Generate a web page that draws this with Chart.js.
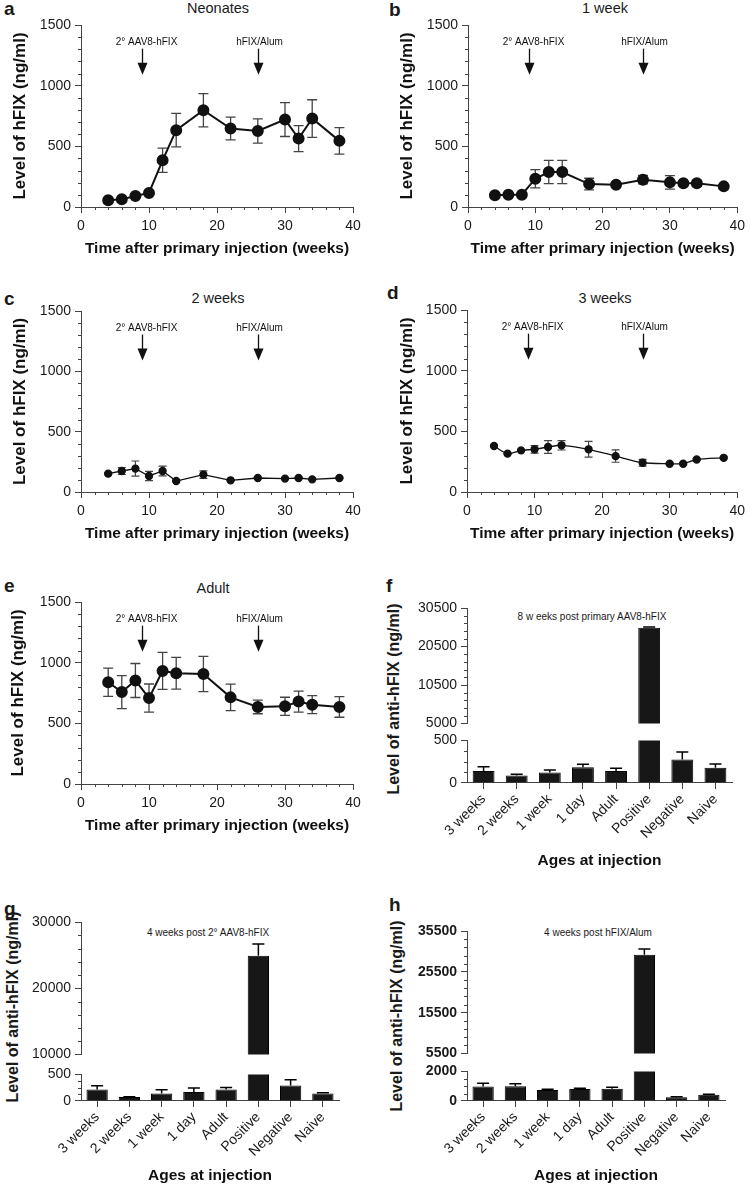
<!DOCTYPE html>
<html>
<head>
<meta charset="utf-8">
<script src="https://cdn.jsdelivr.net/npm/chart.js@4.4.1/dist/chart.umd.min.js"></script>
<style>
  body { margin: 0; background: #fff; }
  #page { position: relative; width: 750px; height: 1187px; overflow: hidden;
          font-family: 'Liberation Sans', Arial, Helvetica, sans-serif; color: #1a1a1a; }
  canvas { position: absolute; }
  .lbl { position: absolute; font-weight: bold; font-size: 19px; line-height: 19px; }
  .ttl { position: absolute; font-size: 14.5px; line-height: 14px; white-space: nowrap; transform: translateX(-50%); }
  .sub { position: absolute; font-size: 10px; line-height: 10px; white-space: nowrap; transform: translateX(-50%); }
  .ytl { position: absolute; font-weight: bold; font-size: 16px; white-space: nowrap;
         transform: translate(-50%, -50%) rotate(-90deg); }
</style>
</head>
<body>
<div id="page">
  <div class="lbl" style="left:4px;top:-1px">a</div>
  <div class="lbl" style="left:389px;top:0px">b</div>
  <div class="lbl" style="left:4px;top:289px">c</div>
  <div class="lbl" style="left:387px;top:283px">d</div>
  <div class="lbl" style="left:4px;top:576px">e</div>
  <div class="lbl" style="left:386px;top:576px">f</div>
  <div class="lbl" style="left:4px;top:899px">g</div>
  <div class="lbl" style="left:389px;top:895px">h</div>

  <div class="ttl" style="left:218px;top:1px">Neonates</div>
  <div class="ttl" style="left:605px;top:1px">1 week</div>
  <div class="ttl" style="left:218px;top:291px">2 weeks</div>
  <div class="ttl" style="left:605px;top:291px">3 weeks</div>
  <div class="ttl" style="left:213px;top:581px">Adult</div>

  <div class="sub" style="left:592px;top:612px">8 w eeks post primary AAV8-hFIX</div>
  <div class="sub" style="left:208px;top:928px">4 weeks post 2° AAV8-hFIX</div>
  <div class="sub" style="left:598px;top:928px">4 weeks post hFIX/Alum</div>

  <div class="ytl" style="left:394px;top:699px">Level of anti-hFIX (ng/ml)</div>
  <div class="ytl" style="left:13px;top:1007px">Level of anti-hFIX (ng/ml)</div>
  <div class="ytl" style="left:397px;top:1016px">Level of anti-hFIX (ng/ml)</div>
</div>
<script>
// ---- data ----
const weeks = [4, 6, 8, 10, 12, 14, 18, 22, 26, 30, 32, 34, 38];

const neonates    = [55, 63, 91, 116, 385, 633, 798, 647, 627, 721, 564, 729, 545];
const neonatesErr = [10, 10, 12, 15, 100, 138, 137, 94, 100, 140, 107, 155, 110];

const week1    = [96, 101, 101, 233, 288, 288, 189, 184, 225, 203, 195, 195, 170];
const week1Err = [8, 8, 8, 75, 96, 96, 48, 10, 35, 55, 15, 25, 10];

const week2    = [152, 174, 194, 133, 174, 91, 144, 97, 116, 111, 116, 105, 116];
const week2Err = [8, 29, 63, 38, 40, 5, 31, 5, 5, 5, 5, 5, 5];

const week3    = [379, 316, 343, 352, 371, 385, 352, 296, 241, 233, 233, 268, 282];
const week3Err = [5, 5, 5, 31, 52, 39, 65, 51, 28, 8, 8, 8, 8];

const adult    = [839, 758, 853, 708, 932, 913, 907, 714, 635, 640, 679, 654, 635];
const adultErr = [116, 136, 140, 116, 152, 131, 145, 109, 56, 75, 86, 74, 85];

const injections = [
  { x: 9, text: '2° AAV8-hFIX', dx: 4 },
  { x: 26, text: 'hFIX/Alum', dx: 1 }
];

const ages = ['3 weeks', '2 weeks', '1 week', '1 day', 'Adult', 'Positive', 'Negative', 'Naive'];

const antiF    = [142, 88, 122, 185, 142, 25400, 277, 180];
const antiFErr = [50, 16, 32, 34, 31, 200, 88, 43];
const antiG    = [217, 73, 142, 171, 217, 24900, 290, 142];
const antiGErr = [68, 7, 68, 73, 39, 1800, 108, 13];
const antiH    = [981, 1000, 750, 812, 833, 29700, 250, 420];
const antiHErr = [225, 167, 40, 44, 104, 1400, 40, 36];

// broken axis ticks (upper segment / lower segment)
const fUpperTicks = [500, 10500, 20500, 30500];
const fUpperLabels = ['5000', '10500', '20500', '30500'];
const fLowerTicks = [0, 500];
const gUpperTicks = [10000, 20000, 30000];
const gLowerTicks = [0, 500];
const hUpperTicks = [5500, 15500, 25500, 35500];
const hLowerTicks = [0, 2000];

// ---- setup ----
const FONT = "'Liberation Sans', Arial, Helvetica, sans-serif";
Chart.defaults.font.family = FONT;
Chart.defaults.color = '#1a1a1a';
Chart.defaults.animation = false;

const page = document.getElementById('page');
function addCanvas(left, top, w, h) {
  const c = document.createElement('canvas');
  c.width = w; c.height = h;
  c.style.left = left + 'px'; c.style.top = top + 'px';
  c.style.width = w + 'px'; c.style.height = h + 'px';
  page.appendChild(c);
  return c;
}

const errorBars = {
  id: 'errorBars',
  beforeDatasetsDraw(chart, args, opts) {
    if (!opts.err) return;
    const ctx = chart.ctx, area = chart.chartArea, ys = chart.scales.y;
    const meta = chart.getDatasetMeta(0);
    const vals = chart.data.datasets[0].data;
    ctx.save();
    ctx.beginPath();
    ctx.rect(area.left, area.top, area.right - area.left, area.bottom - area.top);
    ctx.clip();
    ctx.strokeStyle = opts.color;
    ctx.lineWidth = opts.width;
    meta.data.forEach((el, i) => {
      const v = typeof vals[i] === 'object' ? vals[i].y : vals[i];
      const e = opts.err[i];
      // skip bars whose error lies outside this axis segment
      if (v + e < ys.min || v > ys.max) return;
      const x = el.x;
      const yTop = ys.getPixelForValue(v + e);
      const yBot = ys.getPixelForValue(opts.upOnly ? v : v - e);
      ctx.beginPath();
      ctx.moveTo(x, yTop); ctx.lineTo(x, yBot);
      ctx.moveTo(x - opts.cap, yTop); ctx.lineTo(x + opts.cap, yTop);
      if (!opts.upOnly) { ctx.moveTo(x - opts.cap, yBot); ctx.lineTo(x + opts.cap, yBot); }
      ctx.stroke();
    });
    ctx.restore();
  }
};

const minorTicks = {
  id: 'minorTicks',
  afterDraw(chart, args, opts) {
    const ctx = chart.ctx;
    ctx.save();
    ctx.strokeStyle = '#444';
    ctx.lineWidth = 1;
    ['x', 'y'].forEach(k => {
      const o = opts[k];
      if (!o) return;
      const s = chart.scales[k];
      ctx.beginPath();
      for (let v = s.min; v <= s.max + 1e-6; v += o.step) {
        const r = (v - s.min) % o.major;
        if (Math.abs(r) < 1e-6 || Math.abs(r - o.major) < 1e-6) continue;
        const p = Math.round(s.getPixelForValue(v)) + 0.5;
        if (k === 'x') { ctx.moveTo(p, s.top); ctx.lineTo(p, s.top + o.len); }
        else { ctx.moveTo(s.right, p); ctx.lineTo(s.right - o.len, p); }
      }
      ctx.stroke();
    });
    ctx.restore();
  }
};

const arrows = {
  id: 'arrows',
  afterDatasetsDraw(chart, args, opts) {
    if (!opts.items) return;
    const ctx = chart.ctx, xs = chart.scales.x, ys = chart.scales.y;
    ctx.save();
    ctx.fillStyle = '#111';
    ctx.strokeStyle = '#111';
    ctx.lineWidth = 1.3;
    ctx.font = '10px ' + FONT;
    ctx.textAlign = 'center';
    ctx.textBaseline = 'middle';
    opts.items.forEach(it => {
      const x = Math.round(xs.getPixelForValue(it.x)) + 0.5;
      const yTop = ys.getPixelForValue(opts.stemTop);
      const yTip = ys.getPixelForValue(opts.tip);
      ctx.beginPath(); ctx.moveTo(x, yTop); ctx.lineTo(x, yTip - 11); ctx.stroke();
      ctx.beginPath();
      ctx.moveTo(x - 5, yTip - 12); ctx.lineTo(x + 5, yTip - 12); ctx.lineTo(x, yTip);
      ctx.closePath(); ctx.fill();
      ctx.fillText(it.text, x + it.dx, ys.getPixelForValue(opts.labelY));
    });
    ctx.restore();
  }
};

function lineChart(canvas, vals, errs, cfg) {
  return new Chart(canvas, {
    type: 'line',
    data: {
      datasets: [{
        data: weeks.map((w, i) => ({ x: w, y: vals[i] })),
        borderColor: '#111', backgroundColor: '#111',
        borderWidth: cfg.lw, pointRadius: cfg.r, pointHoverRadius: cfg.r,
        tension: cfg.tension || 0
      }]
    },
    options: {
      responsive: false, animation: false, devicePixelRatio: 1,
      layout: { padding: { left: 0, top: cfg.pt, right: cfg.pr, bottom: 0 } },
      plugins: {
        legend: { display: false }, tooltip: { enabled: false },
        errorBars: { err: errs, color: '#444', width: cfg.ew, cap: cfg.cap },
        minorTicks: { x: { step: 2, major: 10, len: 3 }, y: { step: 100, major: 500, len: 3 } },
        arrows: { items: injections, stemTop: 1305, tip: 1090, labelY: 1355 }
      },
      scales: {
        x: {
          type: 'linear', min: 0, max: 40,
          afterFit: s => { s.height = 55; },
          ticks: { stepSize: 10, font: { size: 14 }, padding: 5, maxRotation: 0, callback: v => String(v) },
          grid: { drawOnChartArea: false, tickLength: 6, color: '#444' },
          border: { color: '#444', width: 1 },
          title: { display: true, text: 'Time after primary injection (weeks)',
                   font: { size: 15.5, weight: 'bold' }, color: '#111', padding: { top: 0, bottom: 3.7 } }
        },
        y: {
          min: 0, max: 1500,
          afterFit: s => { s.width = cfg.yw; },
          ticks: { stepSize: 500, font: { size: 14 }, padding: 4, callback: v => String(v) },
          grid: { drawOnChartArea: false, tickLength: 6, color: '#444' },
          border: { color: '#444', width: 1 },
          title: { display: true, text: 'Level of hFIX (ng/ml)',
                   font: { size: 17, weight: 'bold' }, color: '#111', padding: { top: cfg.ytp, bottom: 0 } }
        }
      }
    },
    plugins: [errorBars, minorTicks, arrows]
  });
}

function barPart(canvas, vals, errs, cfg) {
  const tickVals = cfg.ticks;
  const xScale = cfg.lower ? {
    afterFit: s => { s.height = cfg.xh; },
    ticks: { font: { size: 14 }, minRotation: 45, maxRotation: 45, padding: 2 },
    grid: { drawOnChartArea: false, tickLength: 6, color: '#444', offset: false },
    border: { color: '#444', width: 1 },
    title: { display: true, text: 'Ages at injection',
             font: { size: 15.5, weight: 'bold' }, color: '#111', padding: { top: 0, bottom: cfg.tpb } }
  } : { display: false };
  return new Chart(canvas, {
    type: 'bar',
    data: {
      labels: ages,
      datasets: [{ data: vals, backgroundColor: '#171717', borderColor: '#000', borderWidth: 1,
                   barPercentage: 0.66, categoryPercentage: 1 }]
    },
    options: {
      responsive: false, animation: false, devicePixelRatio: 1,
      layout: { padding: { left: 0, top: cfg.pt, right: cfg.pr, bottom: cfg.pb || 0 } },
      plugins: {
        legend: { display: false }, tooltip: { enabled: false },
        errorBars: { err: errs, color: '#000', width: 1.5, cap: 6, upOnly: true },
        minorTicks: { y: { step: cfg.minor, major: cfg.major, len: 3 } }
      },
      scales: {
        x: xScale,
        y: {
          min: tickVals[0], max: tickVals[tickVals.length - 1],
          afterFit: s => { s.width = cfg.yw; },
          afterBuildTicks: s => { s.ticks = tickVals.map(v => ({ value: v })); },
          ticks: {
            font: { size: 14, weight: cfg.bold ? 'bold' : 'normal' }, padding: 4,
            callback: (v, i) => cfg.labels ? cfg.labels[i] : String(v)
          },
          grid: { drawOnChartArea: false, tickLength: 6, color: '#444' },
          border: { color: '#444', width: 1 }
        }
      }
    },
    plugins: [errorBars, minorTicks]
  });
}

// ---- line panels a-e ----
lineChart(addCanvas(0, 0, 375, 262), neonates, neonatesErr,
  { pt: 25, pr: 22, yw: 81, ytp: 10.5, lw: 2, r: 5, ew: 1.3, cap: 5 });
lineChart(addCanvas(375, 0, 375, 262), week1, week1Err,
  { pt: 25, pr: 9, yw: 93, ytp: 22.4, lw: 2, r: 5, ew: 1.3, cap: 5 });
lineChart(addCanvas(0, 290, 375, 257), week2, week2Err,
  { pt: 21, pr: 22, yw: 81, ytp: 9.8, lw: 1.3, r: 3.5, ew: 1.2, cap: 4 });
lineChart(addCanvas(375, 290, 375, 257), week3, week3Err,
  { pt: 20, pr: 9, yw: 92, ytp: 21.8, lw: 1.3, r: 3.5, ew: 1.2, cap: 4, tension: 0.25 });
lineChart(addCanvas(0, 580, 375, 259), adult, adultErr,
  { pt: 22, pr: 22, yw: 81, ytp: 7.8, lw: 2, r: 5, ew: 1.3, cap: 5 });

// ---- bar panels f-h (broken y axis: upper + lower segment) ----
barPart(addCanvas(375, 590, 375, 146), antiF, antiFErr,
  { pt: 18, pb: 10, pr: 18, yw: 92, ticks: fUpperTicks, labels: fUpperLabels, minor: 2000, major: 10000 });
barPart(addCanvas(375, 728, 375, 145), antiF, antiFErr,
  { lower: true, pt: 11, pr: 18, yw: 92, xh: 90, tpb: 2.6, ticks: fLowerTicks, minor: 125, major: 500 });

barPart(addCanvas(0, 905, 375, 162), antiG, antiGErr,
  { pt: 17, pb: 10, pr: 36, yw: 81, ticks: gUpperTicks, minor: 2000, major: 10000 });
barPart(addCanvas(0, 1062, 375, 125), antiG, antiGErr,
  { lower: true, pt: 10, pr: 36, yw: 81, xh: 86, tpb: 1.6, ticks: gLowerTicks, minor: 125, major: 500 });

barPart(addCanvas(375, 912, 375, 154), antiH, antiHErr,
  { pt: 19, pb: 10, pr: 25, yw: 92, bold: true, ticks: hUpperTicks, minor: 2000, major: 10000 });
barPart(addCanvas(375, 1059, 375, 128), antiH, antiHErr,
  { lower: true, pt: 10, pr: 25, yw: 92, xh: 86, tpb: 1.6, bold: true, ticks: hLowerTicks, minor: 500, major: 2000 });
</script>
</body>
</html>
